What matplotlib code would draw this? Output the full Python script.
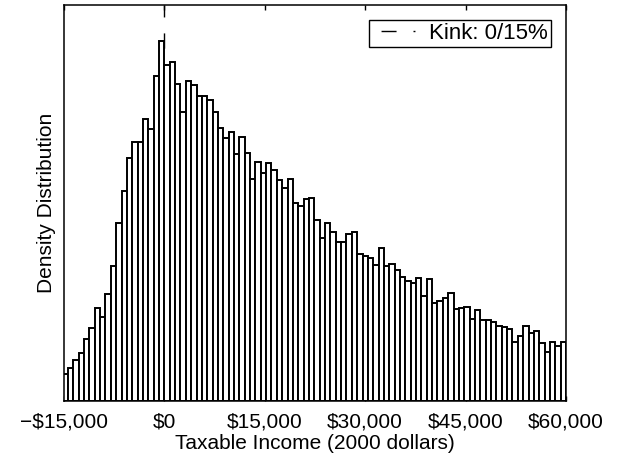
import numpy as np
import matplotlib
matplotlib.use("Agg")
import matplotlib.pyplot as plt

plt.rcParams['font.family'] = ['Liberation Sans', 'DejaVu Sans']

# Histogram data: $800 bins, left edges from -15200 to 59200
bin_width = 800
bin_start = -15200
density = [
    0.27, 0.333, 0.41, 0.485, 0.62, 0.733, 0.93, 0.843, 1.07, 1.353,
    1.783, 2.103, 2.433, 2.593, 2.587, 2.82, 2.72, 3.253, 3.60, 3.36,
    3.387, 3.173, 2.893, 3.197, 3.157, 3.053, 3.05, 3.013, 2.893, 2.727,
    2.633, 2.693, 2.47, 2.643, 2.483, 2.22, 2.39, 2.277, 2.38, 2.307,
    2.213, 2.133, 2.22, 1.977, 1.95, 2.017, 2.027, 1.81, 1.627, 1.777,
    1.687, 1.59, 1.593, 1.67, 1.693, 1.467, 1.45, 1.435, 1.36, 1.527,
    1.35, 1.367, 1.307, 1.243, 1.203, 1.177, 1.23, 1.047, 1.217, 0.983,
    1.00, 1.027, 1.083, 0.917, 0.927, 0.937, 0.82, 0.907, 0.813, 0.81,
    0.793, 0.753, 0.743, 0.723, 0.593, 0.65, 0.753, 0.677, 0.70, 0.577,
    0.49, 0.593, 0.547, 0.593,
]
kink = 0
kink_label = "Kink: 0/15%"
xticks = [-15000, 0, 15000, 30000, 45000, 60000]
xticklabels = ["\u2212$15,000", "$0", "$15,000", "$30,000", "$45,000", "$60,000"]
ymax = 3.96

edges = bin_start + bin_width * np.arange(len(density))
dash_pattern = (10.8, 12.2, 1.4, 12.2)

fig = plt.figure(figsize=(6.23, 4.67), dpi=100)
ax = fig.add_axes([0.1027, 0.1413, 0.8058, 0.848])

ax.plot([kink, kink], [ymax, 0], color='black', linewidth=1.0,
        linestyle=(2.4, (11, 11.5)), zorder=1, label=kink_label)
ax.bar(edges, density, width=bin_width, align='edge', color='white',
       edgecolor='black', linewidth=1.4, zorder=2)

ax.set_xlim(-15000, 60000)
ax.set_ylim(0, ymax)
ax.set_xticks(xticks)
ax.set_xticklabels(xticklabels, fontsize=15)
ax.set_yticks([])
ax.tick_params(axis='x', direction='in', length=3.5, width=1.0, top=True,
               pad=8)
for sp in ax.spines.values():
    sp.set_linewidth(1.1)
    sp.set_zorder(5)

ax.set_xlabel("Taxable Income (2000 dollars)", fontsize=15, labelpad=2)
ax.set_ylabel("Density Distribution", fontsize=15, labelpad=6)

leg = ax.legend(loc='upper right', fontsize=16, handlelength=2.0,
                fancybox=False, framealpha=1, edgecolor='black',
                borderaxespad=0.66, borderpad=0.15, handletextpad=0.55)
leg.get_frame().set_linewidth(1.0)
leg.get_lines()[0].set_linestyle((30.8, dash_pattern))

fig.savefig("out.png", dpi=100)
